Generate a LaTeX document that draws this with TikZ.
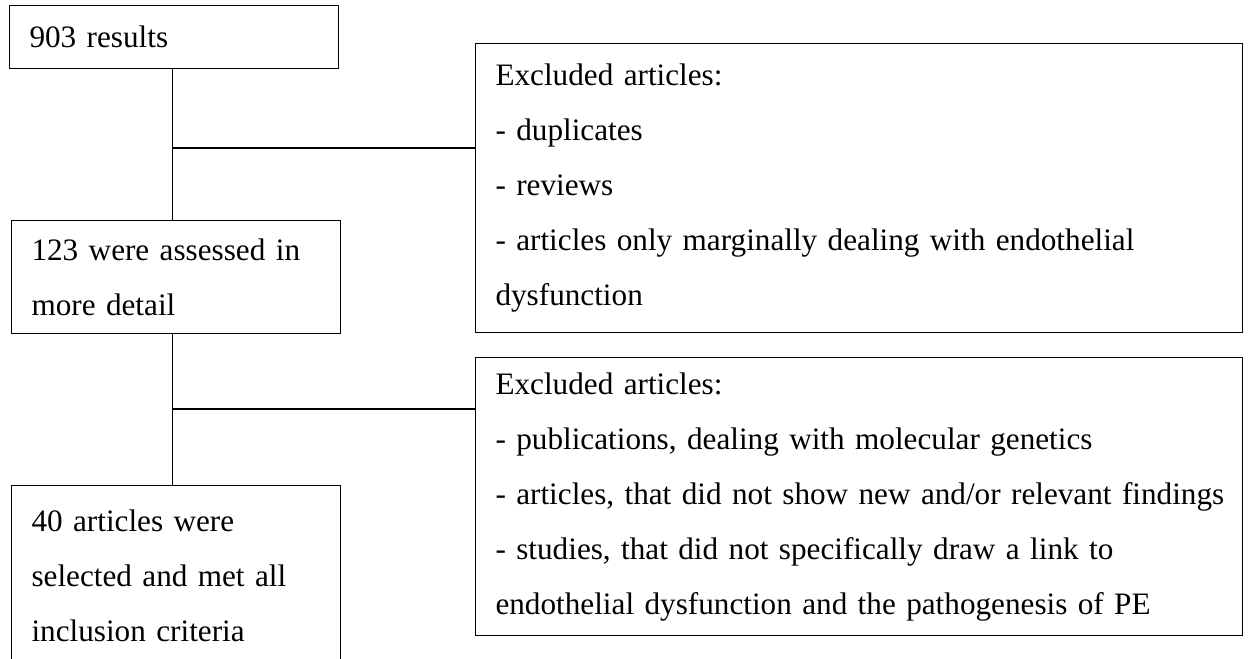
\documentclass[tikz,border=0pt]{standalone}
\usepackage{fontspec}
\setmainfont{Liberation Serif}
\usetikzlibrary{positioning}

\begin{document}
\begin{tikzpicture}[x=0.75pt,y=-0.75pt,
  box/.style={draw, line width=0.8pt, anchor=north west, inner xsep=15pt, inner ysep=0pt,
    align=left, font=\fontsize{23.4}{41.25}\selectfont},
  link/.style={line width=0.8pt}]
\useasboundingbox (0,0) rectangle (1248,658);
% left column
\node[box, text width=216.75pt, minimum height=47.25pt] (res) at (9,5) {903 results};
\node[box, text width=216.75pt, minimum height=84.75pt] (asd) at (11,220) {123 were assessed in\\more detail};
\node[box, text width=216.75pt, minimum height=135pt] (sel) at (11,485) {40 articles were\\selected and met all\\inclusion criteria};
% right column
\node[box, text width=545.25pt, minimum height=216.75pt] (exa) at (475,43)
  {Excluded articles:\\- duplicates\\- reviews\\- articles only marginally dealing with endothelial\\dysfunction};
\node[box, text width=545.25pt, minimum height=208.5pt] (exb) at (475,357)
  {Excluded articles:\\- publications, dealing with molecular genetics\\\mbox{- articles, that did not show new and/or relevant findings}\\- studies, that did not specifically draw a link to\\endothelial dysfunction and the pathogenesis of PE};
% connectors
\coordinate (ja) at (172.5,148);
\coordinate (jb) at (172.5,409);
\draw[link] (res.south -| ja) -- (asd.north -| ja);
\draw[link] (ja) -- (ja -| exa.west);
\draw[link] (asd.south -| jb) -- (sel.north -| jb);
\draw[link] (jb) -- (jb -| exb.west);
\end{tikzpicture}
\end{document}
